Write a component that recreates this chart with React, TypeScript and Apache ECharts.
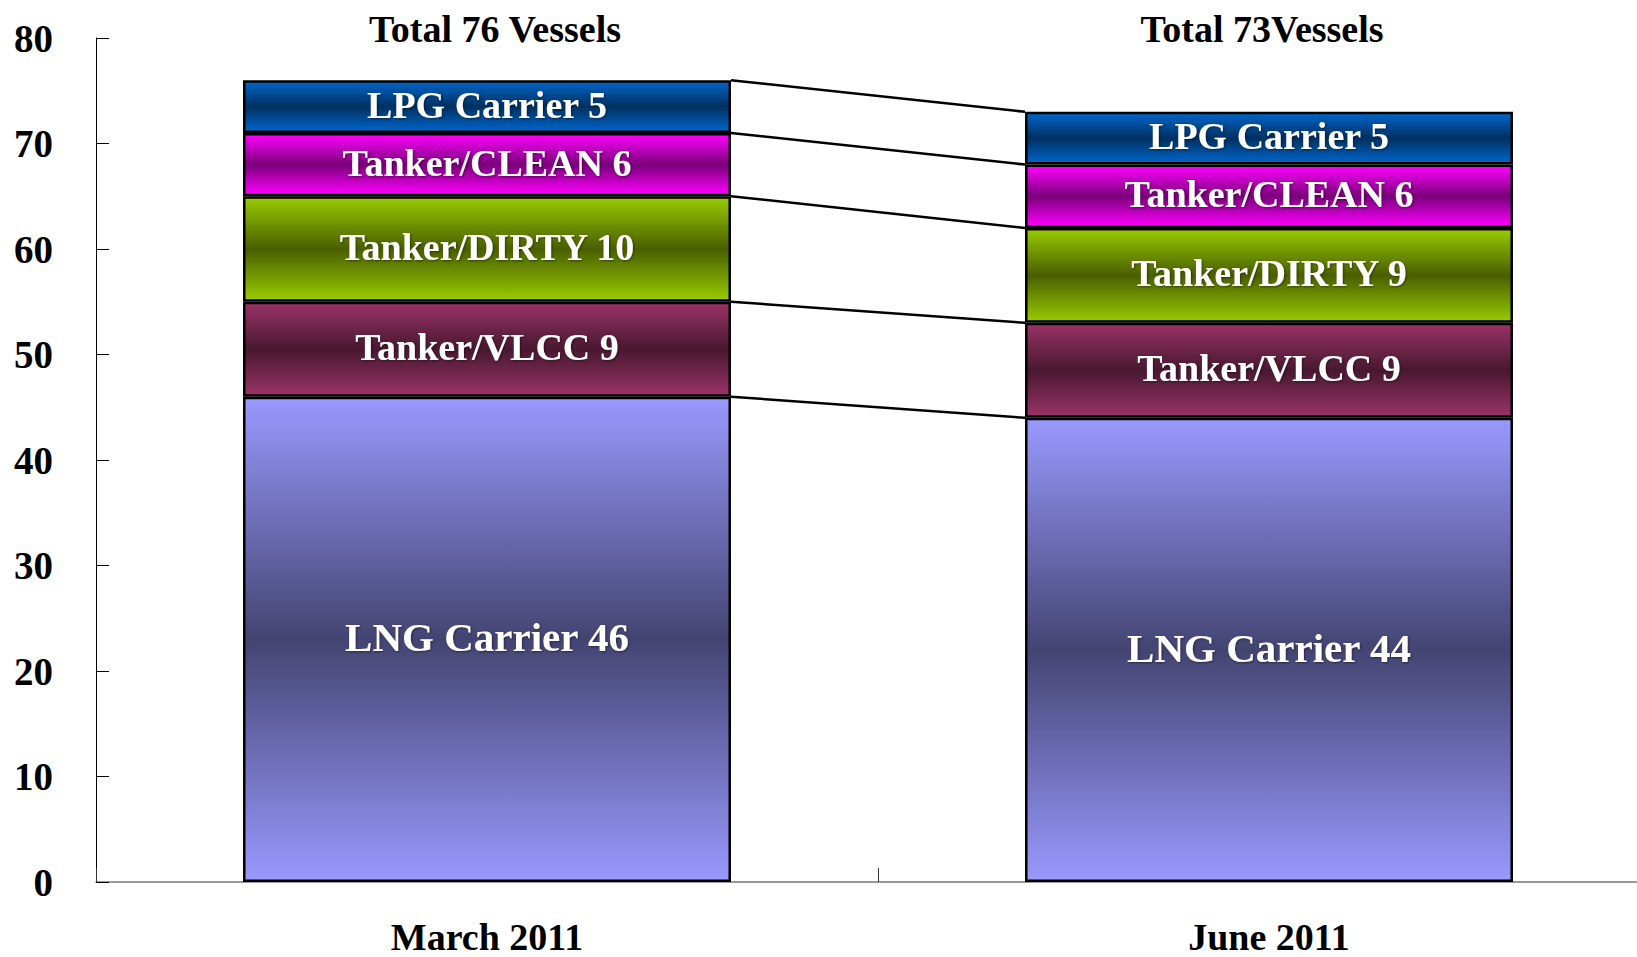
import React, { useEffect, useRef } from "react";
import * as echarts from "echarts";

const categories = ["March 2011", "June 2011"];
const totalTitles = ["Total 76 Vessels", "Total 73Vessels"];
const seriesNames = ["LNG Carrier", "Tanker/VLCC", "Tanker/DIRTY", "Tanker/CLEAN", "LPG Carrier"];
const lngValues = [46, 44];
const vlccValues = [9, 9];
const dirtyValues = [10, 9];
const cleanValues = [6, 6];
const lpgValues = [5, 5];
const yTicks = { min: 0, max: 80, interval: 10 };

const gradients: [string, string][] = [
  ["#9999ff", "#444472"],
  ["#993366", "#481830"],
  ["#99cc00", "#4a5e00"],
  ["#ff00ff", "#7a007a"],
  ["#0066cc", "#003060"],
];

const FONT = "'Liberation Serif', 'Times New Roman', serif";
const BAR_RATIO = 0.624;

function grad(edge: string, mid: string) {
  return {
    type: "linear",
    x: 0,
    y: 0,
    x2: 0,
    y2: 1,
    colorStops: [
      { offset: 0, color: edge },
      { offset: 0.5, color: mid },
      { offset: 1, color: edge },
    ],
  };
}

export default function App() {
  const ref = useRef<HTMLDivElement>(null);
  useEffect(() => {
    if (!ref.current) return;
    const chart = echarts.init(ref.current, undefined, { renderer: "svg" });
    const stacks = [lngValues, vlccValues, dirtyValues, cleanValues, lpgValues];

    const cum0: number[] = [];
    const cum1: number[] = [];
    let a = 0;
    let b = 0;
    stacks.forEach((s) => {
      a += s[0];
      b += s[1];
      cum0.push(a);
      cum1.push(b);
    });

    const barSeries = stacks.map((vals, i) => ({
      type: "bar",
      name: seriesNames[i],
      stack: "total",
      barWidth: BAR_RATIO * 100 + "%",
      data: vals,
      itemStyle: {
        color: grad(gradients[i][0], gradients[i][1]),
        borderColor: "#000",
        borderWidth: 2.5,
      },
      label: {
        show: true,
        position: "inside",
        formatter: "{a} {c}",
        color: "#fff",
        fontFamily: FONT,
        fontWeight: "bold",
        fontSize: i === 0 ? 41 : 38,
        offset: [0, -2],
        textShadowColor: "rgba(0,0,0,0.45)",
        textShadowBlur: 2,
        textShadowOffsetX: 1,
        textShadowOffsetY: 1,
      },
      z: 3,
    }));

    const option: any = {
      animation: false,
      backgroundColor: "#fff",
      grid: { left: 96, top: 38, width: 1564, height: 844, containLabel: false },
      xAxis: {
        type: "category",
        data: categories,
        axisLine: { lineStyle: { color: "#777", width: 1.5 } },
        axisTick: { show: true, interval: 0, inside: true, length: 14, lineStyle: { color: "#333", width: 1 } },
        axisLabel: {
          color: "#000",
          fontFamily: FONT,
          fontWeight: "bold",
          fontSize: 38,
          lineHeight: 38,
          margin: 36,
        },
      },
      yAxis: {
        type: "value",
        min: yTicks.min,
        max: yTicks.max,
        interval: yTicks.interval,
        splitLine: { show: false },
        axisLine: { show: true, lineStyle: { color: "#000", width: 1 } },
        axisTick: { show: true, inside: true, length: 13, lineStyle: { color: "#000" } },
        axisLabel: {
          color: "#000",
          fontFamily: FONT,
          fontWeight: "bold",
          fontSize: 39,
          margin: 43,
        },
      },
      series: [
        ...barSeries,
        {
          type: "custom",
          name: "connectors",
          data: cum0.map((v, i) => [0, v, cum1[i]]),
          encode: { x: 0, y: 1 },
          z: 2,
          renderItem: (params: any, api: any) => {
            const y1 = api.value(1);
            const y2 = api.value(2);
            const p1 = api.coord([0, y1]);
            const p2 = api.coord([1, y2]);
            const bw = api.size([1, 0])[0] * BAR_RATIO;
            return {
              type: "line",
              shape: { x1: p1[0] + bw / 2, y1: p1[1], x2: p2[0] - bw / 2, y2: p2[1] },
              style: { stroke: "#000", lineWidth: 2.5 },
            };
          },
        },
        {
          type: "scatter",
          name: "titles",
          symbolSize: 0,
          itemStyle: { color: "#000", opacity: 1 },
          data: [
            { value: [0, yTicks.max], label: { offset: [8, -9] } },
            { value: [1, yTicks.max], label: { offset: [-7, -9] } },
          ],
          label: {
            show: true,
            position: "inside",
            formatter: (p: any) => totalTitles[p.dataIndex],
            color: "#000",
            fontFamily: FONT,
            fontWeight: "bold",
            fontSize: 38,
          },
          z: 5,
        },
      ],
    };
    chart.setOption(option);
    return () => chart.dispose();
  }, []);
  return (
    <div style={{ position: "absolute", left: 0, top: 0, width: 1637, height: 957, overflow: "hidden" }}>
      <div ref={ref} style={{ width: 1700, height: 957 }} />
    </div>
  );
}
